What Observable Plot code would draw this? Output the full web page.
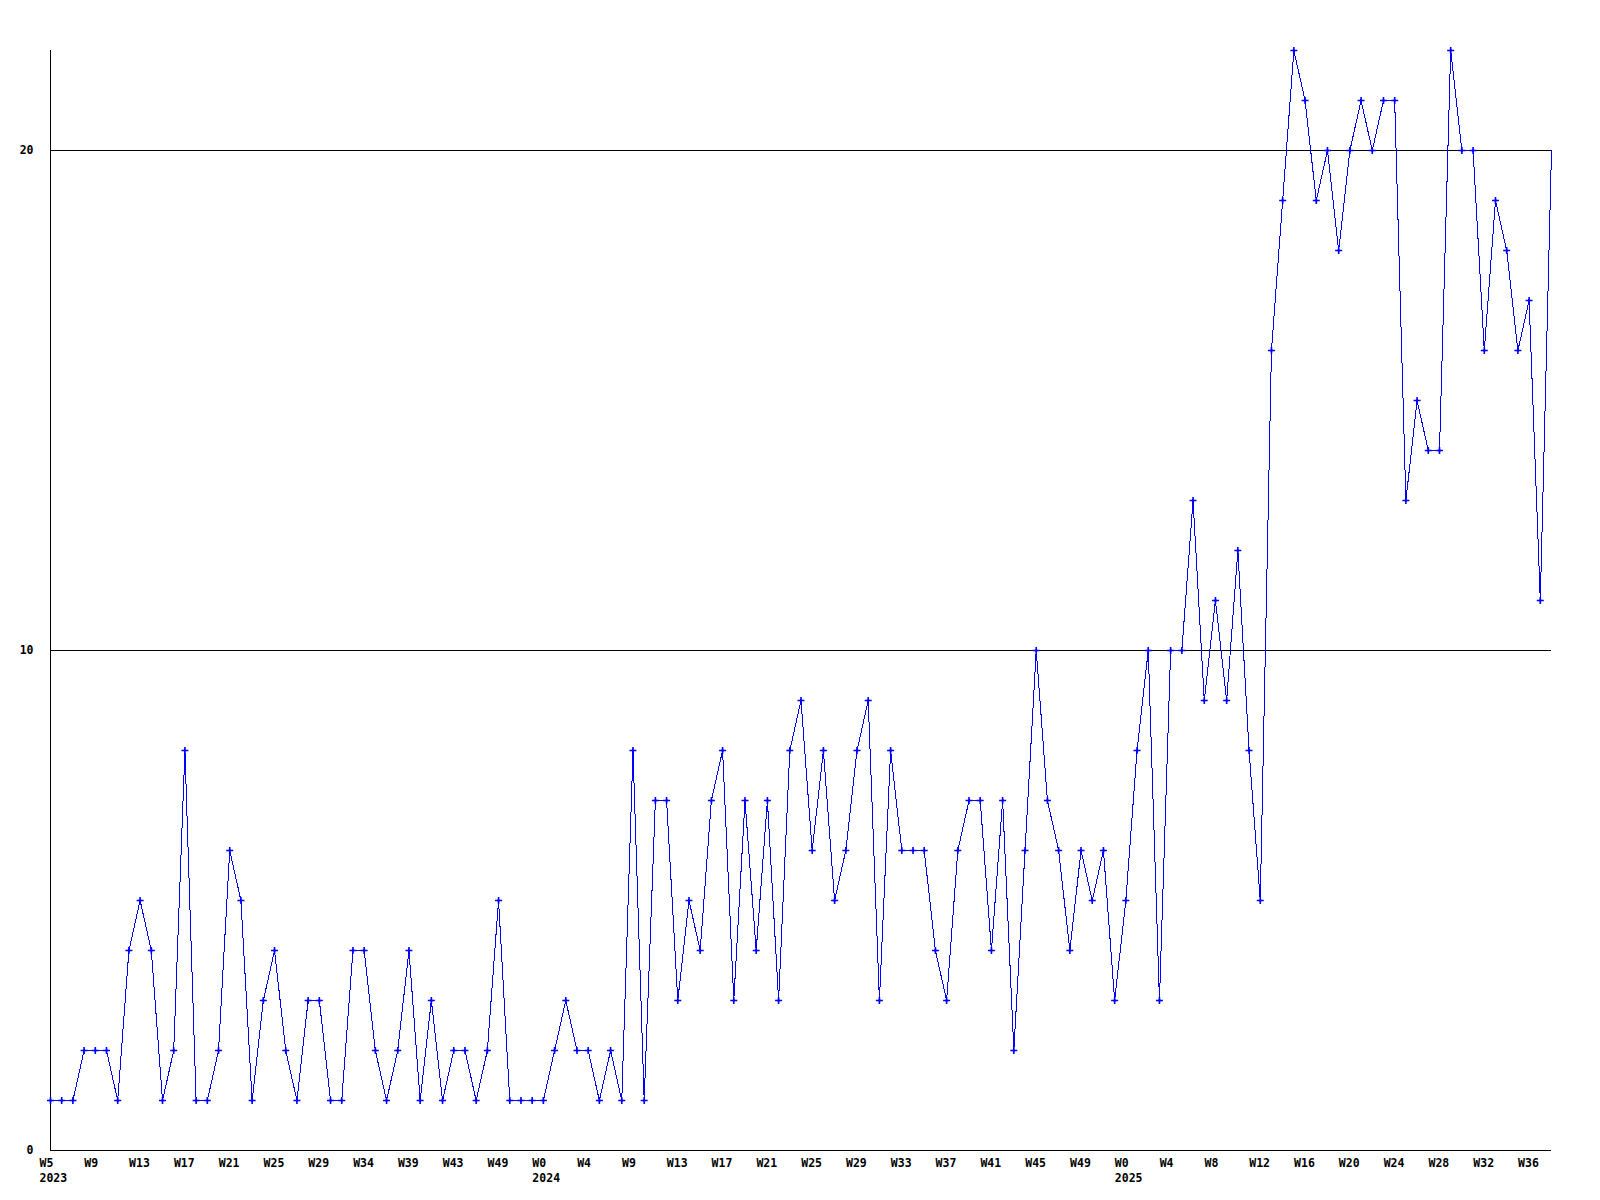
<!DOCTYPE html>
<html>
<head>
<meta charset="utf-8">
<script src="https://cdn.jsdelivr.net/npm/d3@7"></script>
<script src="https://cdn.jsdelivr.net/npm/@observablehq/plot@0.6"></script>
<style>
  html, body { margin: 0; padding: 0; background: #ffffff; }
  #chart svg { display: block; }
</style>
</head>
<body>
<div id="chart"></div>
<script>
// Weekly values (one per week)
const values = [
  1, 1, 1, 2, 2, 2, 1, 4, 5, 4,
  1, 2, 8, 1, 1, 2, 6, 5, 1, 3,
  4, 2, 1, 3, 3, 1, 1, 4, 4, 2,
  1, 2, 4, 1, 3, 1, 2, 2, 1, 2,
  5, 1, 1, 1, 1, 2, 3, 2, 2, 1,
  2, 1, 8, 1, 7, 7, 3, 5, 4, 7,
  8, 3, 7, 4, 7, 3, 8, 9, 6, 8,
  5, 6, 8, 9, 3, 8, 6, 6, 6, 4,
  3, 6, 7, 7, 4, 7, 2, 6, 10, 7,
  6, 4, 6, 5, 6, 3, 5, 8, 10, 3,
  10, 10, 13, 9, 11, 9, 12, 8, 5, 16,
  19, 22, 21, 19, 20, 18, 20, 21, 20, 21,
  21, 13, 15, 14, 14, 22, 20, 20, 16, 19,
  18, 16, 17, 11
];
// Current (open) week: line end without a marker
const openWeekValue = 20;

// Tick labels (one every 4 weeks)
const weekLabels = [
  "W5", "W9", "W13", "W17", "W21", "W25", "W29", "W34", "W39", "W43", "W49",
  "W0", "W4", "W9", "W13", "W17", "W21", "W25", "W29", "W33", "W37", "W41", "W45", "W49",
  "W0", "W4", "W8", "W12", "W16", "W20", "W24", "W28", "W32", "W36"
];
const yearLabels = ["2023", "2024", "2025"];
const yTicks = [0, 10, 20];
const yMax = 22;
const tickStep = 4;

const data = values.map((v, i) => ({i, v}));
const lineData = [...data, {i: values.length, v: openWeekValue}];
const lastIndex = lineData.length - 1;

const weekTicks = weekLabels.map((_, k) => k * tickStep);
const yearTicks = weekTicks.filter((t, k) => k === 0 || weekLabels[k] === "W0");

const plot = Plot.plot({
  width: 1600,
  height: 1200,
  marginLeft: 50,
  marginRight: 49,
  marginTop: 50,
  marginBottom: 50,
  style: {
    background: "#ffffff",
    color: "#000000",
    fontFamily: "'DejaVu Sans Mono', 'Liberation Mono', monospace",
    fontSize: "11.5px",
    fontWeight: "bold"
  },
  x: {domain: [0, lastIndex], label: null},
  y: {domain: [0, yMax], label: null},
  marks: [
    Plot.ruleY(yTicks.filter(d => d > 0), {stroke: "#000000", strokeWidth: 1, shapeRendering: "crispEdges"}),
    Plot.ruleY([0], {stroke: "#000000", strokeWidth: 1, shapeRendering: "crispEdges"}),
    Plot.ruleX([0], {stroke: "#000000", strokeWidth: 1, shapeRendering: "crispEdges"}),
    Plot.axisY({ticks: yTicks, tickSize: 0, tickPadding: 17, tickFormat: d => String(d), label: null}),
    Plot.axisX({
      ticks: weekTicks, tickSize: 0, tickPadding: 8,
      tickFormat: d => weekLabels[d / tickStep],
      textAnchor: "start", dx: -11, label: null
    }),
    Plot.axisX({
      ticks: yearTicks, tickSize: 0, tickPadding: 23,
      tickFormat: d => yearLabels[yearTicks.indexOf(d)],
      textAnchor: "start", dx: -11, label: null
    }),
    Plot.line(lineData, {x: "i", y: "v", stroke: "#0000ff", strokeWidth: 1, shapeRendering: "crispEdges"}),
    Plot.dot(data, {x: "i", y: "v", symbol: "plus", r: 2.4, stroke: "#0000ff", strokeWidth: 1.6}),
    Plot.dot(data, {x: "i", y: "v", r: 1.3, fill: "#0000ff", stroke: null})
  ]
});

document.getElementById("chart").appendChild(plot);
</script>
</body>
</html>
